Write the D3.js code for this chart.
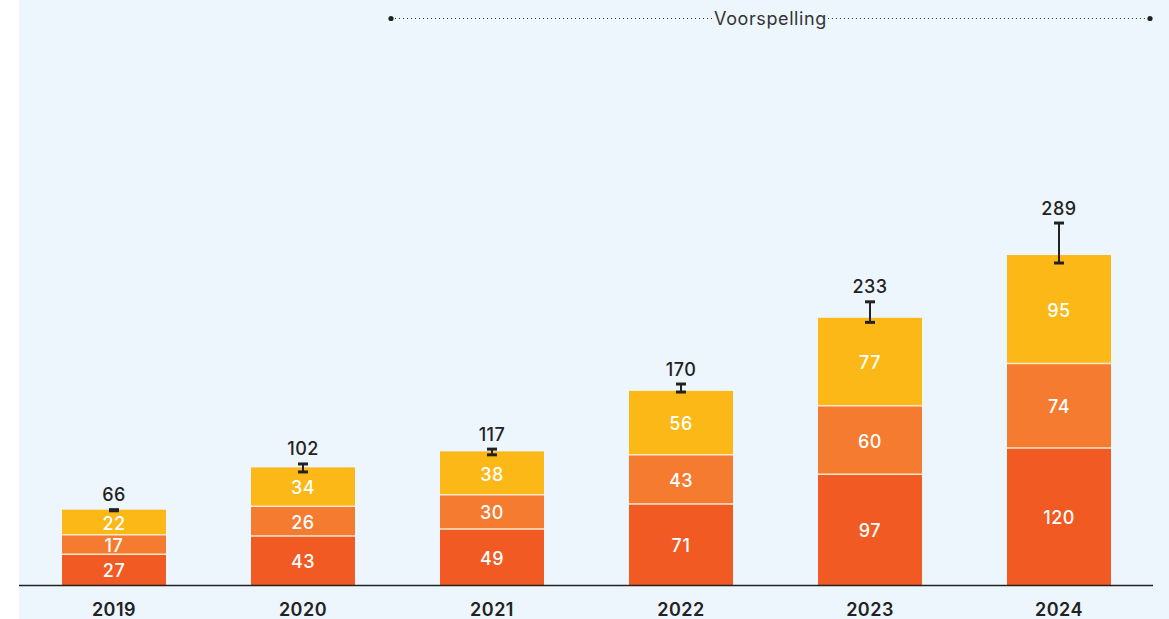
<!DOCTYPE html>
<html><head><meta charset="utf-8">
<script src="https://cdn.jsdelivr.net/npm/d3@7"></script>
<style>
html,body{margin:0;padding:0;background:#fff;}
svg{display:block;}
text{font-family:Inter,"Noto Sans",sans-serif;}
</style></head>
<body><svg id="c" width="1169" height="619"></svg>
<script>
const years = ["2019","2020","2021","2022","2023","2024"];
const seriesBottom = [27,43,49,71,97,120];
const seriesMiddle = [17,26,30,43,60,74];
const seriesTop = [22,34,38,56,77,95];
const totals = [66,102,117,170,233,289];
const errLow = [65,99,114,169,230,282];
const errHigh = [66,106,119,176,248,317];
const forecastLabel = "Voorspelling";

const colors = ["#f15a22","#f47b2f","#fbb817"];
const svg = d3.select("#c");
const W = 1169, H = 619;
svg.append("rect").attr("x",19).attr("y",0).attr("width",W-19).attr("height",H).attr("fill","#eef6fd");

const step = 189, bw = 104;
const x = d3.scaleBand().domain(years)
  .range([114 - step/2, 1059 + step/2])
  .paddingInner(1 - bw/step).paddingOuter((1 - bw/step)/2);
const y = d3.scaleLinear().domain([0,289]).range([585,255]);

const stackData = years.map((yr,i)=>({year:yr, a:seriesBottom[i], b:seriesMiddle[i], c:seriesTop[i]}));
const stack = d3.stack().keys(["a","b","c"])(stackData);

const g = svg.append("g");
stack.forEach((layer,li)=>{
  layer.forEach((d,i)=>{
    const y0 = y(d[0]), y1 = y(d[1]);
    g.append("rect").attr("x",x(years[i])).attr("width",x.bandwidth())
      .attr("y",y1).attr("height",y0-y1).attr("fill",colors[li]);
    if(li>0){
      g.append("line").attr("x1",x(years[i])).attr("x2",x(years[i])+x.bandwidth())
        .attr("y1",y0).attr("y2",y0).attr("stroke","#fde7cf").attr("stroke-width",1.5);
    }
    g.append("text").attr("x",x(years[i])+x.bandwidth()/2).attr("y",(y0+y1)/2)
      .attr("dy","0.42em").attr("text-anchor","middle").attr("fill","#fff")
      .attr("font-size",18).attr("font-weight",500).attr("letter-spacing",0.5).text(d.data[["a","b","c"][li]]);
  });
});

// axis
const axis = svg.append("g").attr("transform","translate(0,585)").call(d3.axisBottom(x).tickSize(0).tickPadding(18));
axis.select(".domain").remove();
axis.selectAll("text").attr("font-size",18).attr("font-weight",600).attr("fill","#222").attr("letter-spacing",0.5)
  .attr("font-family","Inter,'Noto Sans',sans-serif");
svg.append("line").attr("x1",19).attr("x2",1153).attr("y1",585.5).attr("y2",585.5).attr("stroke","#222").attr("stroke-width",1.5);

// error bars
years.forEach((yr,i)=>{
  const cx = x(yr)+x.bandwidth()/2;
  const t = y(errHigh[i]), b = y(errLow[i]);
  svg.append("line").attr("x1",cx).attr("x2",cx).attr("y1",t).attr("y2",b).attr("stroke","#222").attr("stroke-width",2);
  [t,b].forEach(v=>svg.append("line").attr("x1",cx-5).attr("x2",cx+5).attr("y1",v).attr("y2",v).attr("stroke","#222").attr("stroke-width",3));
  svg.append("text").attr("x",cx).attr("y",t-15).attr("dy","0.36em").attr("text-anchor","middle")
    .attr("font-size",18).attr("font-weight",500).attr("letter-spacing",0.5).attr("fill","#222").text(totals[i]);
});

// forecast annotation
const fx1 = 391, fx2 = 1150, fy = 18.5;
const fcx = 770.5;
const lbl = svg.append("text").attr("x",fcx).attr("y",fy).attr("dy","0.36em").attr("text-anchor","middle")
  .attr("font-size",18).attr("letter-spacing",0.6).attr("fill","#333").text(forecastLabel);
const tw = lbl.node().getComputedTextLength();
svg.append("line").attr("x1",fx1).attr("x2",fcx-tw/2-1).attr("y1",fy).attr("y2",fy)
  .attr("stroke","#333").attr("stroke-width",1.2).attr("stroke-dasharray","1,3");
svg.append("line").attr("x1",fcx+tw/2+1).attr("x2",fx2).attr("y1",fy).attr("y2",fy)
  .attr("stroke","#333").attr("stroke-width",1.2).attr("stroke-dasharray","1,3");
[fx1,fx2].forEach(v=>svg.append("circle").attr("cx",v).attr("cy",fy).attr("r",2.6).attr("fill","#222"));
</script></body></html>
